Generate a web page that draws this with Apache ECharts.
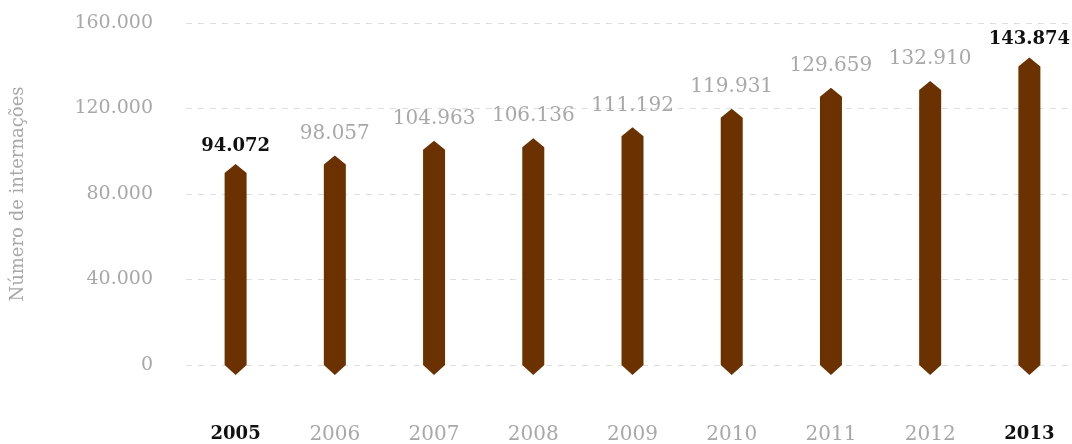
<!DOCTYPE html>
<html>
<head>
<meta charset="utf-8">
<script src="https://cdn.jsdelivr.net/npm/echarts@6/dist/echarts.min.js"></script>
<style>html,body{margin:0;padding:0;background:#fff}#c{width:1072px;height:444px}</style>
</head>
<body>
<div id="c"></div>
<script>
var categories = ['2005','2006','2007','2008','2009','2010','2011','2012','2013'];
var values = [94072, 98057, 104963, 106136, 111192, 119931, 129659, 132910, 143874];
var highlighted = ['2005','2013'];
var yTicks = [0, 40000, 80000, 120000, 160000];

var FONT = '"DejaVu Serif", serif';
var GRAY = '#a8a8a8';
function fmt(v){ return String(v).replace(/\B(?=(\d{3})+(?!\d))/g, '.'); }

var chart = echarts.init(document.getElementById('c'), null, {renderer:'canvas'});
chart.setOption({
  animation: false,
  grid: {left: 186, width: 893, top: 23, height: 342, containLabel: false, outerBoundsMode: 'none'},
  xAxis: {
    type: 'category',
    data: categories,
    axisLine: {show: false},
    axisTick: {show: false},
    axisLabel: {
      margin: 60,
      formatter: function(v){ return highlighted.indexOf(v) >= 0 ? '{b|' + v + '}' : '{n|' + v + '}'; },
      rich: {
        b: {fontFamily: FONT, fontSize: 18, fontWeight: 'bold', color: '#111'},
        n: {fontFamily: FONT, fontSize: 20, color: GRAY}
      }
    }
  },
  yAxis: {
    type: 'value',
    min: yTicks[0], max: yTicks[yTicks.length-1], interval: 40000,
    name: 'Número de internações',
    nameLocation: 'middle',
    nameGap: 159,
    nameTextStyle: {fontFamily: FONT, fontSize: 18, color: GRAY},
    axisLine: {show: false},
    axisTick: {show: false},
    axisLabel: {margin: 33, fontFamily: FONT, fontSize: 19, color: GRAY, formatter: function(v){ return fmt(v); }},
    splitLine: {lineStyle: {color: '#dedede', type: [6, 6], width: 1}}
  },
  series: [{
    type: 'custom',
    data: values.map(function(v, i){ return [i, v]; }),
    clip: false,
    renderItem: function(params, api){
      var i = api.value(0), v = api.value(1);
      var top = api.coord([i, v]);
      var bot = api.coord([i, 0]);
      var x = top[0], hw = 11, tip = 9;
      var hl = highlighted.indexOf(categories[i]) >= 0;
      return {
        type: 'group',
        children: [{
          type: 'polygon',
          shape: {points: [[x, top[1]], [x+hw, top[1]+tip], [x+hw, bot[1]], [x, bot[1]+10], [x-hw, bot[1]], [x-hw, top[1]+tip]]},
          style: {fill: '#6b3200'}
        }, {
          type: 'text',
          x: x, y: top[1] - (hl ? 9 : 12),
          style: {
            text: fmt(v),
            textAlign: 'center', textVerticalAlign: 'bottom',
            font: (hl ? 'bold 18px ' : '20px ') + FONT,
            fill: hl ? '#111' : GRAY
          }
        }]
      };
    }
  }]
});
</script>
</body>
</html>
